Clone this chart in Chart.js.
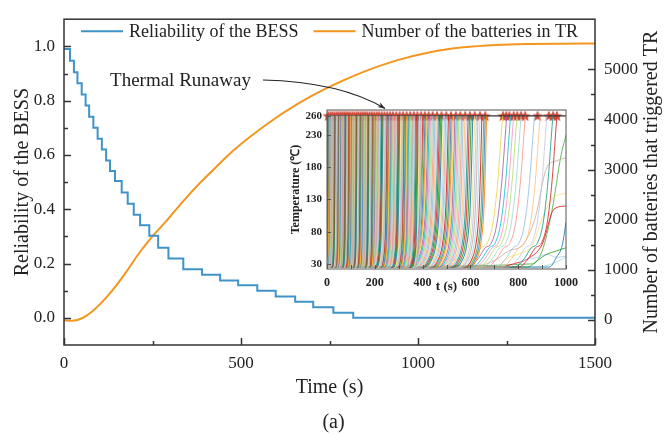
<!DOCTYPE html>
<html>
<head>
<meta charset="utf-8">
<script src="https://cdn.jsdelivr.net/npm/chart.js@4.4.0/dist/chart.umd.min.js"></script>
<style>
  html, body { margin: 0; padding: 0; background: #fff; }
  #wrap { position: relative; width: 667px; height: 435px; }
  #main { position: absolute; left: 0; top: 0; }
  #inset { position: absolute; left: 280px; top: 98px; }
</style>
</head>
<body>
<div id="wrap">
  <canvas id="main" width="667" height="435"></canvas>
  <canvas id="inset" width="305" height="196"></canvas>
</div>
<script>
// ---- main chart data ----
const relTime = [0, 17, 28, 38, 50, 61, 71, 83, 95, 107, 119, 130, 144, 163, 180, 197, 215, 241, 266, 295, 337, 390, 441, 492, 546, 598, 653, 704, 761, 817, 1500];
const relValue = [0.99, 0.947, 0.905, 0.864, 0.823, 0.782, 0.741, 0.70, 0.66, 0.62, 0.58, 0.541, 0.504, 0.462, 0.42, 0.38, 0.341, 0.302, 0.258, 0.219, 0.179, 0.159, 0.138, 0.12, 0.10, 0.079, 0.059, 0.039, 0.019, 0.0, 0.0];
const trTime = [0, 20, 40, 64, 102, 139, 177, 215, 248, 290, 337, 384, 412, 480, 573, 660, 742, 846, 940, 1034, 1128, 1222, 1316, 1410, 1500];
const trCount = [-10, -15, 5, 87, 316, 610, 969, 1360, 1654, 1981, 2372, 2731, 2927, 3390, 3905, 4310, 4624, 4949, 5178, 5341, 5439, 5486, 5505, 5512, 5517];

const xTicks = [0, 500, 1000, 1500];
const xMinor = [250, 750, 1250];
const relTicks = [0, 0.2, 0.4, 0.6, 0.8, 1.0];
const relMinor = [0.1, 0.3, 0.5, 0.7, 0.9];
const cntTicks = [0, 1000, 2000, 3000, 4000, 5000];
const cntMinor = [500, 1500, 2500, 3500, 4500];

// ---- inset data (cell temperatures) ----
const insetXTicks = [0, 200, 400, 600, 800, 1000];
const insetXMinor = [100, 300, 500, 700, 900];
const insetYTicks = [30, 80, 130, 180, 230, 260];

// TR time of every cell that reaches 260 degC, grouped by how fast it heats up
const fastTR = [1, 3, 5, 7, 9, 10, 12, 14, 16, 19, 20, 22, 24, 26, 29, 31, 33, 34, 36, 38, 41, 43, 45, 46, 48, 50, 53, 55, 57, 58, 60, 62, 65, 67, 69, 70, 72, 74, 77, 79, 81, 83, 85, 86, 89, 91, 93, 95, 97, 99, 102, 104, 106, 108, 110, 112, 115, 117, 119, 121, 123, 125, 128, 130, 132, 134, 137, 139, 141, 143, 146, 148, 150, 152, 155, 157, 159, 161, 164, 166, 169, 171, 173, 175, 178, 180, 183, 185, 188, 190, 192, 194, 197, 199];
const warmTR = [202, 205, 208, 211, 213, 216, 219, 222, 226, 229, 231, 234, 237, 240, 244, 247, 250, 252, 256, 259, 262, 265, 269, 272, 275, 278, 282, 285, 288, 291, 295, 298, 301, 304, 308, 311, 315, 318, 321, 324, 328, 331, 335, 338, 342, 345, 349, 352, 356, 359, 363, 366, 370, 374, 378, 381, 385, 388, 392, 396];
const midTR = [401, 405, 410, 414, 418, 423, 428, 433, 437, 442, 447, 452, 457, 462, 466, 471, 476, 481, 487, 492, 497, 502, 508, 513, 519, 524, 530, 535, 541, 547, 552, 558, 564, 570, 577, 583, 590, 596, 603, 610, 618, 625, 632, 640, 648, 656, 662, 668];
const slowTR = [735, 752, 768, 781, 795, 812, 830, 868, 892, 920, 945, 962];

// heating profiles: seconds before TR and temperature
const fastDt = [-12, -6, -3, -1, 0];
const fastT = [25, 38, 80, 170, 260];
const warmDt = [-25, -14, -7, -3, 0];
const warmT = [25, 40, 80, 160, 260];
const midDt = [-70, -45, -25, -12, -5, 0];
const midT = [25, 35, 60, 110, 185, 260];
const slowDt = [-160, -120, -90, -65, -40, -20, -8, 0];
const slowT = [25, 38, 55, 62, 95, 160, 220, 260];

// cells still heating at 1000 s
const openLines = [
  [[0, 25], [840, 25], [880, 35], [920, 45], [960, 50], [1000, 55]],
  [[0, 25], [930, 25], [960, 40], [985, 60], [1000, 95]],
  [[0, 25], [700, 25], [760, 40], [800, 45], [860, 60], [900, 100], [940, 130], [1000, 140]],
  [[0, 25], [780, 25], [820, 35], [880, 40], [920, 45], [960, 40], [1000, 42]],
  [[0, 25], [640, 28], [700, 35], [760, 50], [820, 60], [870, 100], [920, 180], [960, 190], [1000, 195]],
  [[0, 25], [880, 25], [940, 30], [1000, 40]],
  [[0, 25], [720, 25], [780, 30], [840, 38], [900, 60], [950, 115], [1000, 120]],
  [[0, 25], [860, 30], [900, 50], [940, 110], [980, 200], [1000, 230]]
];

const starTimes = [5, 14, 22, 31, 40, 48, 56, 64, 72, 80, 88, 97, 106, 115, 124, 132, 141, 150, 159, 168, 178, 188, 198, 208, 218, 229, 240, 252, 264, 276, 290, 304, 318, 333, 348, 363, 378, 394, 409, 425, 442, 460, 479, 499, 519, 539, 558, 578, 598, 618, 640, 662, 736, 750, 763, 781, 796, 812, 829, 881, 928, 946, 962];

const lineColors = [
  'rgba(228,26,28,0.85)', 'rgba(77,175,74,0.85)', 'rgba(55,126,184,0.85)', 'rgba(255,127,0,0.8)',
  'rgba(240,210,60,0.8)', 'rgba(152,78,163,0.75)', 'rgba(23,190,207,0.85)', 'rgba(247,129,191,0.7)',
  'rgba(166,216,84,0.7)', 'rgba(141,211,199,0.7)', 'rgba(251,128,114,0.7)', 'rgba(128,177,211,0.7)',
  'rgba(253,180,98,0.7)', 'rgba(190,186,218,0.7)', 'rgba(31,158,137,0.85)', 'rgba(214,39,40,0.85)',
  'rgba(44,160,44,0.85)', 'rgba(31,119,180,0.85)', 'rgba(255,221,120,0.8)', 'rgba(174,199,232,0.8)',
  'rgba(196,156,148,0.7)', 'rgba(158,218,229,0.8)'
];

const blue = '#3f93c9';
const orange = '#f2961f';
const ink = '#222';

Chart.defaults.font.family = "'Liberation Serif', 'Times New Roman', serif";
Chart.defaults.color = ink;

// frame + inward ticks
const frameTicks = {
  id: 'frameTicks',
  afterDraw(chart, args, o) {
    const {ctx, chartArea: a} = chart;
    ctx.save();
    ctx.strokeStyle = o.color;
    ctx.lineWidth = o.width;
    ctx.strokeRect(a.left, a.top, a.right - a.left, a.bottom - a.top);
    o.marks.forEach(m => {
      const s = chart.scales[m.axis];
      m.values.forEach(v => {
        const p = Math.round(s.getPixelForValue(v)) + 0.5;
        ctx.beginPath();
        if (s.isHorizontal()) { ctx.moveTo(p, a.bottom); ctx.lineTo(p, a.bottom - m.len); }
        else if (s.position === 'left') { ctx.moveTo(a.left, p); ctx.lineTo(a.left + m.len, p); }
        else { ctx.moveTo(a.right, p); ctx.lineTo(a.right - m.len, p); }
        ctx.stroke();
      });
    });
    ctx.restore();
  }
};

// legend inside the plot box
const areaLegend = {
  id: 'areaLegend',
  afterDraw(chart, args, o) {
    const {ctx, chartArea: a} = chart;
    ctx.save();
    ctx.font = o.font;
    const items = chart.data.datasets.map(d => ({text: d.label, color: d.borderColor, w: ctx.measureText(d.label).width}));
    const total = items.reduce((s, it) => s + o.lineLen + o.gap + it.w, 0) + o.spacing * (items.length - 1);
    let x = (a.left + a.right) / 2 - total / 2;
    const y = a.top + o.offsetY;
    items.forEach(it => {
      ctx.strokeStyle = it.color;
      ctx.lineWidth = 2;
      ctx.beginPath();
      ctx.moveTo(x, y);
      ctx.lineTo(x + o.lineLen, y);
      ctx.stroke();
      x += o.lineLen + o.gap;
      ctx.fillStyle = ink;
      ctx.textBaseline = 'middle';
      ctx.fillText(it.text, x, y + 1);
      x += it.w + o.spacing;
    });
    ctx.restore();
  }
};

// annotation, arrow and right axis title
const notes = {
  id: 'notes',
  afterDraw(chart, args, o) {
    const {ctx, chartArea: a} = chart;
    const sx = chart.scales.x, sy = chart.scales.y;
    const px = p => [sx.getPixelForValue(p[0]), sy.getPixelForValue(p[1])];
    ctx.save();
    ctx.fillStyle = ink;
    ctx.font = "19px 'Liberation Serif', serif";
    ctx.textBaseline = 'middle';
    const [tx, ty] = px(o.label);
    ctx.fillText(o.text, tx, ty);
    const [x0, y0] = px(o.from), [cx, cy] = px(o.ctrl), [x1, y1] = px(o.to);
    ctx.strokeStyle = ink;
    ctx.lineWidth = 1.2;
    ctx.beginPath();
    ctx.moveTo(x0, y0);
    ctx.quadraticCurveTo(cx, cy, x1, y1);
    ctx.stroke();
    const ang = Math.atan2(y1 - cy, x1 - cx);
    ctx.beginPath();
    ctx.moveTo(x1, y1);
    ctx.lineTo(x1 - 8 * Math.cos(ang - 0.35), y1 - 8 * Math.sin(ang - 0.35));
    ctx.lineTo(x1 - 5 * Math.cos(ang), y1 - 5 * Math.sin(ang));
    ctx.lineTo(x1 - 8 * Math.cos(ang + 0.35), y1 - 8 * Math.sin(ang + 0.35));
    ctx.closePath();
    ctx.fill();
    ctx.translate(o.rightTitleX, (a.top + a.bottom) / 2);
    ctx.rotate(-Math.PI / 2);
    ctx.font = "20px 'Liberation Serif', serif";
    ctx.textAlign = 'center';
    ctx.fillText(o.rightTitle, 0, 0);
    ctx.restore();
  }
};

new Chart(document.getElementById('main'), {
  type: 'line',
  data: {
    datasets: [
      {
        label: 'Reliability of the BESS',
        data: relTime.map((t, i) => ({x: t, y: relValue[i]})),
        yAxisID: 'y',
        borderColor: blue,
        backgroundColor: blue,
        borderWidth: 2,
        stepped: true,
        pointRadius: 0
      },
      {
        label: 'Number of the batteries in TR',
        data: trTime.map((t, i) => ({x: t, y: trCount[i]})),
        yAxisID: 'y1',
        borderColor: orange,
        backgroundColor: orange,
        borderWidth: 2,
        cubicInterpolationMode: 'monotone',
        pointRadius: 0
      }
    ]
  },
  options: {
    responsive: false,
    animation: false,
    devicePixelRatio: 1,
    layout: {padding: {top: 13, left: 0, right: 0, bottom: 0}},
    plugins: {
      legend: {display: false},
      tooltip: {enabled: false},
      title: {display: true, position: 'bottom', text: '(a)', font: {size: 20, weight: 'normal'}, padding: {top: 5, bottom: 0}, color: ink},
      frameTicks: {
        color: '#333', width: 1.5,
        marks: [
          {axis: 'x', values: xTicks, len: 7}, {axis: 'x', values: xMinor, len: 4},
          {axis: 'y', values: relTicks, len: 7}, {axis: 'y', values: relMinor, len: 4},
          {axis: 'y1', values: cntTicks, len: 7}, {axis: 'y1', values: cntMinor, len: 4}
        ]
      },
      areaLegend: {font: "18px 'Liberation Serif', serif", lineLen: 42, gap: 6, spacing: 15, offsetY: 12},
      notes: {
        text: 'Thermal Runaway', label: [130, 0.873],
        from: [562, 0.876], ctrl: [780, 0.869], to: [907, 0.771],
        rightTitle: 'Number of batteries that triggered TR', rightTitleX: 652
      }
    },
    scales: {
      x: {
        type: 'linear', min: 0, max: 1500,
        afterBuildTicks: s => { s.ticks = xTicks.map(v => ({value: v})); },
        grid: {display: false, drawTicks: false},
        border: {display: false},
        ticks: {padding: 8, font: {size: 17}, maxRotation: 0, callback: v => String(v)},
        title: {display: true, text: 'Time (s)', font: {size: 20}, padding: {top: 0, bottom: 6}},
        afterFit: s => { s.height = 61; }
      },
      y: {
        position: 'left', min: -0.1, max: 1.1,
        afterBuildTicks: s => { s.ticks = relTicks.map(v => ({value: v})); },
        grid: {display: false, drawTicks: false},
        border: {display: false},
        ticks: {padding: 9, font: {size: 17}, callback: v => v.toFixed(1)},
        title: {display: true, text: 'Reliability of the BESS', font: {size: 20}, padding: {top: 11, bottom: 0}},
        afterFit: s => { s.width = 64; }
      },
      y1: {
        position: 'right', min: -500, max: 6000,
        afterBuildTicks: s => { s.ticks = cntTicks.map(v => ({value: v})); },
        grid: {display: false, drawTicks: false},
        border: {display: false},
        ticks: {padding: 9, font: {size: 17}, callback: v => String(v)},
        afterFit: s => { s.width = 72; }
      }
    }
  },
  plugins: [frameTicks, areaLegend, notes]
});

// ---- inset ----
const starImg = document.createElement('canvas');
starImg.width = 12; starImg.height = 12;
(() => {
  const c = starImg.getContext('2d');
  c.fillStyle = '#cf4a3c';
  c.beginPath();
  for (let k = 0; k < 10; k++) {
    const r = k % 2 === 0 ? 6 : 2.6;
    const ang = -Math.PI / 2 + k * Math.PI / 5;
    c.lineTo(6 + r * Math.cos(ang), 6.5 + r * Math.sin(ang));
  }
  c.closePath();
  c.fill();
})();

const insetSets = [];
let ci = 0;
function addGroup(times, dts, temps, width) {
  times.forEach(tr => {
    const pts = [];
    if (tr + dts[0] > 0) pts.push({x: 0, y: temps[0]});
    dts.forEach((d, k) => pts.push({x: tr + d, y: temps[k]}));
    insetSets.push({data: pts, borderColor: lineColors[ci++ % lineColors.length], borderWidth: width, pointRadius: 0, cubicInterpolationMode: 'monotone'});
  });
}
addGroup(fastTR, fastDt, fastT, 1.3);
addGroup(warmTR, warmDt, warmT, 1.2);
addGroup(midTR, midDt, midT, 1.1);
addGroup(slowTR, slowDt, slowT, 1);
openLines.forEach(l => {
  insetSets.push({data: l.map(p => ({x: p[0], y: p[1]})), borderColor: lineColors[ci++ % lineColors.length], borderWidth: 1, pointRadius: 0, cubicInterpolationMode: 'monotone'});
});
insetSets.push({data: [{x: 0, y: 260}, {x: 1000, y: 260}], borderColor: '#333', borderWidth: 1.3, pointRadius: 0});
insetSets.push({data: starTimes.map(t => ({x: t, y: 260})), showLine: false, pointStyle: starImg, pointRadius: 6, clip: false});

const whiteArea = {
  id: 'whiteArea',
  beforeDraw(chart) {
    const {ctx, chartArea: a} = chart;
    ctx.save();
    ctx.fillStyle = '#fff';
    ctx.fillRect(a.left, a.top, a.right - a.left, a.bottom - a.top);
    ctx.restore();
  }
};

new Chart(document.getElementById('inset'), {
  type: 'line',
  data: {datasets: insetSets},
  options: {
    responsive: false,
    animation: false,
    devicePixelRatio: 1,
    layout: {padding: {top: 12, right: 5, left: 0, bottom: 0}},
    plugins: {
      legend: {display: false},
      tooltip: {enabled: false},
      frameTicks: {
        color: '#555', width: 1,
        marks: [
          {axis: 'x', values: insetXTicks, len: 4}, {axis: 'x', values: insetXMinor, len: 4},
          {axis: 'y', values: insetYTicks, len: 4}
        ]
      }
    },
    scales: {
      x: {
        type: 'linear', min: 0, max: 1000,
        afterBuildTicks: s => { s.ticks = insetXTicks.map(v => ({value: v})); },
        grid: {display: false, drawTicks: false},
        border: {display: false},
        ticks: {padding: 7, font: {size: 12, weight: 'bold'}, maxRotation: 0, callback: v => String(v)},
        title: {display: true, text: 't (s)', font: {size: 13, weight: 'bold'}, padding: {top: 0, bottom: 0}},
        afterFit: s => { s.height = 25; }
      },
      y: {
        min: 22, max: 269,
        afterBuildTicks: s => { s.ticks = insetYTicks.map(v => ({value: v})); },
        grid: {display: false, drawTicks: false},
        border: {display: false},
        ticks: {padding: 5, font: {size: 11, weight: 'bold'}},
        title: {display: true, text: 'Temperature (℃)', font: {size: 12, weight: 'bold'}, padding: {top: 9, bottom: 0}},
        afterFit: s => { s.width = 47; }
      }
    }
  },
  plugins: [whiteArea, frameTicks]
});
</script>
</body>
</html>
